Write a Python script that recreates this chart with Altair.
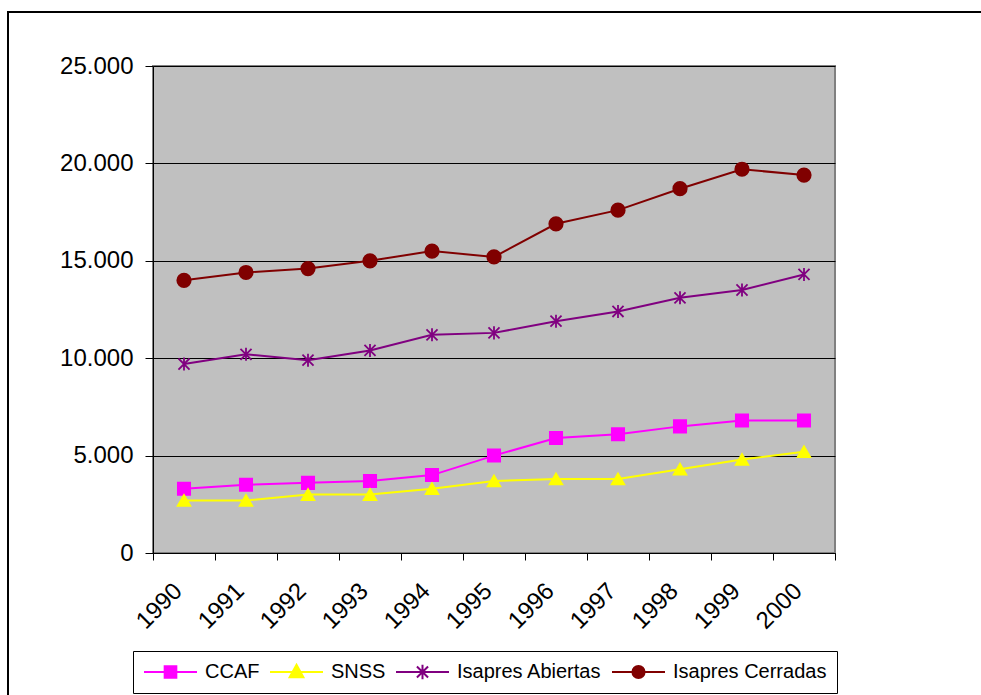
import altair as alt
import pandas as pd

# Annual values per institution, 1990-2000
years = ["1990", "1991", "1992", "1993", "1994", "1995", "1996", "1997", "1998", "1999", "2000"]
ccaf = [3300, 3500, 3600, 3700, 4000, 5000, 5900, 6100, 6500, 6800, 6800]
snss = [2700, 2700, 3000, 3000, 3300, 3700, 3800, 3800, 4300, 4800, 5200]
isapres_abiertas = [9700, 10200, 9900, 10400, 11200, 11300, 11900, 12400, 13100, 13500, 14300]
isapres_cerradas = [14000, 14400, 14600, 15000, 15500, 15200, 16900, 17600, 18700, 19700, 19400]

series_names = ["CCAF", "SNSS", "Isapres Abiertas", "Isapres Cerradas"]
series_colors = ["#FF00FF", "#FFFF00", "#800080", "#800000"]
y_ticks = [0, 5000, 10000, 15000, 20000, 25000]

rows = []
for name, vals in zip(series_names, [ccaf, snss, isapres_abiertas, isapres_cerradas]):
    for yr, v in zip(years, vals):
        rows.append({"year": yr, "value": v, "series": name})
df = pd.DataFrame(rows)

FONT = "Liberation Sans"

# Marker shapes drawn on the data points
asterisk = "M0,-1V1M-0.85,-0.85L0.85,0.85M-0.85,0.85L0.85,-0.85"
point_shapes = ["square", "triangle-up", asterisk, "circle"]
point_sizes = [150, 180, 230, 170]

# Legend symbols: a line segment with the marker in its middle
legend_shapes = [
    "M-1,0H1M-0.22,-0.22H0.22V0.22H-0.22Z",
    "M-1,0H1M0,-0.27L0.26,0.2H-0.26Z",
    "M-1,0H1M0,-0.27V0.27M-0.21,-0.21L0.21,0.21M-0.21,0.21L0.21,-0.21",
    "M-1,0H1M-0.23,0A0.23,0.23 0 1,0 0.23,0A0.23,0.23 0 1,0 -0.23,0Z",
]

color_scale = alt.Scale(domain=series_names, range=series_colors)

x_enc = alt.X(
    "year:O",
    bandPosition=0.5,
    sort=years,
    scale=alt.Scale(type="band", paddingInner=0, paddingOuter=0),
    axis=alt.Axis(
        title=None,
        tickBand="extent",
        labelAngle=-45,
        labelAlign="right",
        labelBaseline="middle",
        labelFontSize=24,
        labelFont=FONT,
        labelColor="#000000",
        labelPadding=27,
        labelOffset=-6,
        tickSize=7,
        tickColor="#000000",
        domainColor="#000000",
        grid=False,
    ),
)

y_enc = alt.Y(
    "value:Q",
    scale=alt.Scale(domain=[0, 25000], nice=False),
    axis=alt.Axis(
        title=None,
        values=y_ticks,
        labelExpr="replace(format(datum.value, ','), ',', '.')",
        labelFontSize=24,
        labelFont=FONT,
        labelColor="#000000",
        labelPadding=12,
        tickSize=8,
        tickColor="#000000",
        domainColor="#000000",
        grid=True,
        gridColor="#000000",
        gridWidth=1,
        gridOpacity=1,
    ),
)

base = alt.Chart(df)

lines = base.mark_line(strokeWidth=2).encode(
    x=x_enc,
    y=y_enc,
    stroke=alt.Stroke("series:N", scale=color_scale, legend=None),
    detail="series:N",
)

points = base.mark_point(filled=True, strokeWidth=1.8, opacity=1).encode(
    x=x_enc,
    y=y_enc,
    shape=alt.Shape("series:N", scale=alt.Scale(domain=series_names, range=point_shapes), legend=None),
    size=alt.Size("series:N", scale=alt.Scale(domain=series_names, range=point_sizes), legend=None),
    fill=alt.Fill("series:N", scale=color_scale, legend=None),
    stroke=alt.Stroke("series:N", scale=color_scale, legend=None),
)

legend_props = dict(
    title=None,
    orient="none",
    legendX=-20,
    legendY=585,
    direction="horizontal",
    columns=4,
    columnPadding=9,
    symbolSize=2809,
    symbolStrokeWidth=2,
    clipHeight=22,
    labelFontSize=20,
    labelFont=FONT,
    labelColor="#000000",
    labelOffset=7,
    labelLimit=400,
    padding=10,
    strokeColor="#000000",
    fillColor="#FFFFFF",
)

# Legend carrier: its own marks sit outside the plot and are clipped away
legend_layer = alt.Chart(pd.DataFrame({"series": series_names})).mark_point(
    filled=True, clip=True, size=2809, strokeWidth=2, opacity=1
).encode(
    x=alt.value(-2000),
    y=alt.value(-2000),
    shape=alt.Shape("series:N", scale=alt.Scale(domain=series_names, range=legend_shapes),
                    legend=alt.Legend(**legend_props)),
    fill=alt.Fill("series:N", scale=color_scale, legend=alt.Legend(**legend_props)),
    stroke=alt.Stroke("series:N", scale=color_scale, legend=alt.Legend(**legend_props)),
)

# Outer frame around the whole figure
frame = alt.Chart(pd.DataFrame({"k": [0]})).mark_rect(
    filled=False, stroke="#000000", strokeWidth=2, clip=False
).encode(
    x=alt.value(-145),
    x2=alt.value(860),
    y=alt.value(-54),
    y2=alt.value(660),
)

chart = (
    alt.layer(frame, lines, points, legend_layer)
    .resolve_scale(shape="independent", fill="independent", stroke="independent", size="independent")
    .properties(
        width=682,
        height=487,
        padding={"left": 153, "top": 66, "right": 146, "bottom": 142},
        autosize=alt.AutoSizeParams(type="none"),
        background="#FFFFFF",
    )
    .configure_view(fill="#C0C0C0", stroke="#808080", strokeWidth=2)
    .configure_axis(domainWidth=1, tickWidth=1)
)

chart.save("out.html", embed_options={"renderer": "svg", "actions": False})
